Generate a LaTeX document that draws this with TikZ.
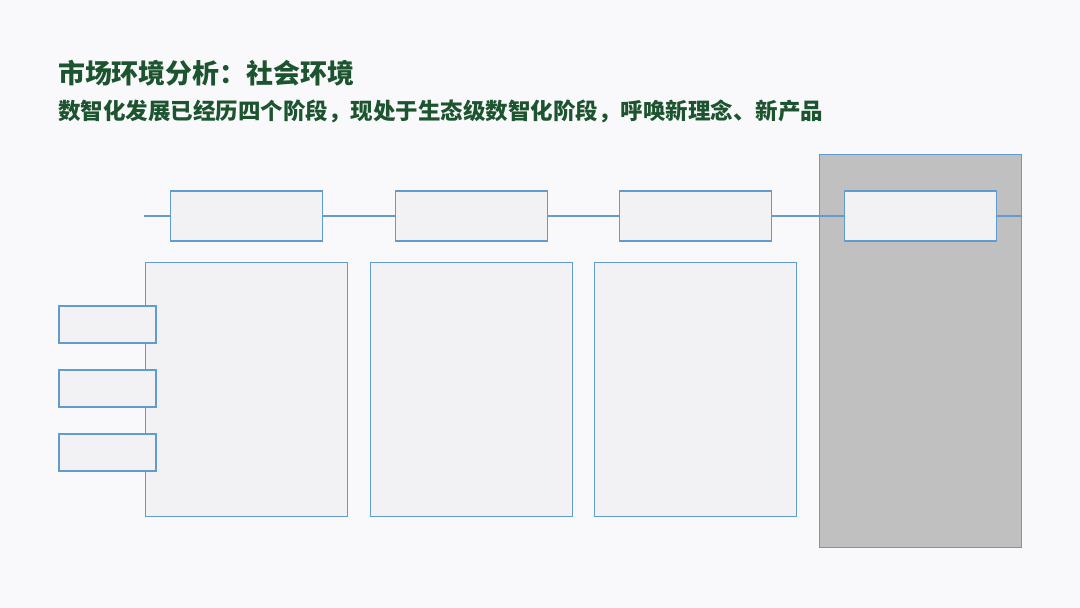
\documentclass[tikz,border=0pt]{standalone}
\usepackage{fontspec}
\setmainfont{Noto Sans CJK SC}
\usetikzlibrary{positioning}
\definecolor{titlegreen}{RGB}{29,84,48}
\definecolor{boxblue}{RGB}{98,154,210}
\definecolor{boxfill}{RGB}{242,242,244}
\definecolor{pagebg}{RGB}{249,249,251}
\definecolor{stagegray}{RGB}{192,192,192}
\tikzset{
node distance=21.4pt, % gap between the columns
stage/.style={draw=boxblue, line width=1.1pt, fill=boxfill, inner sep=0pt,
  minimum width=202pt, minimum height=254pt},
phase/.style={draw=boxblue, line width=1.1pt, fill=boxfill, inner sep=0pt,
  minimum width=152pt, minimum height=50pt},
factor/.style={draw=boxblue, line width=1.1pt, fill=boxfill, inner sep=0pt,
  minimum width=97pt, minimum height=37pt},
}

\begin{document}
\begin{tikzpicture}[x=1pt, y=-1pt,
  heading/.style={text=titlegreen, anchor=west, inner sep=0pt, font=\bfseries}]
  \fill[pagebg] (0,0) rectangle (1080,608);
  \node[heading, font=\bfseries\fontsize{26.9}{32}\selectfont] (title) at (58,73) {市场环境分析：社会环境};
  \node[heading, font=\bfseries\fontsize{22.5}{27}\selectfont] (subtitle) at (58,111) {数智化发展已经历四个阶段，现处于生态级数智化阶段，呼唤新理念、新产品};
  % current stage highlighted
  \node[draw=boxblue, line width=1.1pt, fill=stagegray, inner sep=0pt,
    minimum width=202pt, minimum height=393pt, anchor=north west] (now) at (819,154) {};
  % columns
  \node[stage, anchor=north west] (col1) at (145,262) {};
  \node[stage, right=of col1] (col2) {};
  \node[stage, right=of col2] (col3) {};
  % timeline
  \coordinate (lstart) at (144,216);
  \node[phase] (p1) at (col1 |- lstart) {};
  \node[phase] (p2) at (col2 |- lstart) {};
  \node[phase] (p3) at (col3 |- lstart) {};
  \node[phase] (p4) at (now |- lstart) {};
  \coordinate (lend) at (now.east |- lstart);
  \draw[boxblue, line width=1.1pt] (lstart) -- (p1.west) (p1.east) -- (p2.west)
    (p2.east) -- (p3.west) (p3.east) -- (p4.west) (p4.east) -- (lend);
  % factors
  \node[factor] (f1) at (107.5,324.5) {};
  \node[factor, below=25.9pt of f1] (f2) {};
  \node[factor, below=25.9pt of f2] (f3) {};
\end{tikzpicture}
\end{document}
